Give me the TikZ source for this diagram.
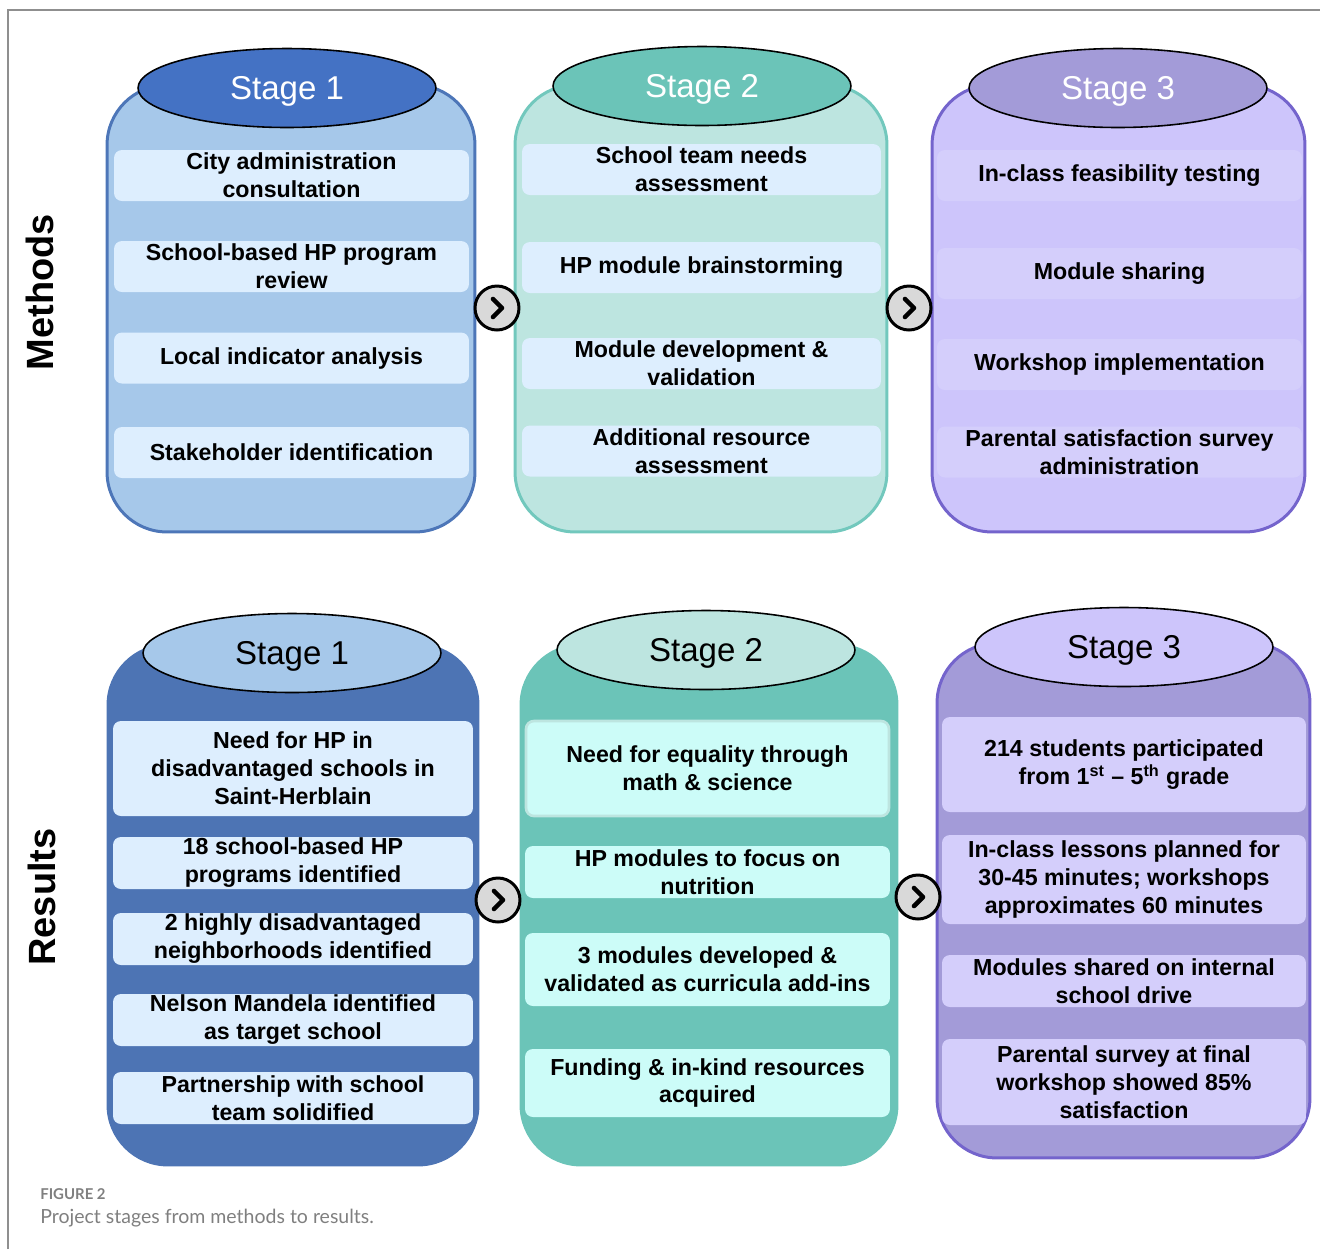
\documentclass[tikz,border=0pt]{standalone}
\usepackage{fontspec}
\setmainfont{Liberation Sans}
\newfontfamily\capfont{Lato}
\usetikzlibrary{shapes.geometric,positioning,calc}

\definecolor{colA}{HTML}{A6C8EA}
\definecolor{colAdark}{HTML}{4472C4}
\definecolor{colAline}{HTML}{4D76B8}
\definecolor{colAres}{HTML}{4D74B4}
\definecolor{colB}{HTML}{BDE5E0}
\definecolor{colBdark}{HTML}{6BC4B8}
\definecolor{colBline}{HTML}{72C8BD}
\definecolor{colC}{HTML}{CDC5FB}
\definecolor{colCdark}{HTML}{A39BD8}
\definecolor{colCline}{HTML}{7464CC}
\definecolor{boxblue}{HTML}{DDEEFE}
\definecolor{boxteal}{HTML}{CCFCF8}
\definecolor{boxlilac}{HTML}{D4CEFB}
\definecolor{framegray}{HTML}{8F8F8F}
\definecolor{capgray}{HTML}{7F7F7F}

\begin{document}
\begin{tikzpicture}[
    x=0.02cm, y=-0.02cm,
    stagecol/.style={rectangle, rounded corners=1.2cm, line width=1.7pt, minimum height=8.94cm, inner sep=0pt},
    stagehead/.style={ellipse, draw=black, line width=0.9pt, minimum width=5.96cm, minimum height=1.58cm, inner sep=0pt, text height=16.9pt, text depth=3.9pt, font=\fontsize{18.8}{22}\selectfont},
    stepbox/.style={rectangle, rounded corners=4.5pt, align=center, inner sep=0pt, minimum height=1.02cm, font=\bfseries\fontsize{13.2}{15.9}\selectfont},
    nextarrow/.style={circle, draw=black, fill=black!15, line width=1.7pt, minimum size=0.88cm, inner sep=0pt},
    chev/.style={line width=2.6pt, line cap=round, line join=round},
    rowlabel/.style={rotate=90, font=\bfseries\fontsize{21.6}{24}\selectfont}
]
    \useasboundingbox (0,0) rectangle (1320,1249);
    \draw [framegray, line width=1.1pt] (8,1249) -- (8,10) -- (1320,10);

    % methods
    \node [rowlabel] (methods) at (40,292) {Methods};

    \node [stagecol, fill=colA, draw=colAline, minimum width=7.36cm] (mcol1) at (291,308.5) {};
    \node [stagecol, fill=colB, draw=colBline, minimum width=7.44cm] (mcol2) at (701,308.5) {};
    \node [stagecol, fill=colC, draw=colCline, minimum width=7.46cm] (mcol3) at (1118.5,308.5) {};

    \node [stagehead, fill=colAdark, text=white] (mhead1) at (287,88) {Stage 1};
    \node [stagehead, fill=colBdark, text=white] (mhead2) at (702,86) {Stage 2};
    \node [stagehead, fill=colCdark, text=white] (mhead3) at (1118,88) {Stage 3};

    \node [stepbox, fill=boxblue, minimum width=7.1cm] (m11) at (291.5,175.5) {City administration\\consultation};
    \node [stepbox, fill=boxblue, minimum width=7.1cm] (m12) at (291.5,266.5) {School-based HP program\\review};
    \node [stepbox, fill=boxblue, minimum width=7.1cm] (m13) at (291.5,358) {Local indicator analysis};
    \node [stepbox, fill=boxblue, minimum width=7.1cm] (m14) at (291.5,452.5) {Stakeholder identification};

    \node [stepbox, fill=boxblue, minimum width=7.18cm] (m21) at (701.5,169.5) {School team needs\\assessment};
    \node [stepbox, fill=boxblue, minimum width=7.18cm] (m22) at (701.5,267.5) {HP module brainstorming};
    \node [stepbox, fill=boxblue, minimum width=7.18cm] (m23) at (701.5,363.5) {Module development \&\\validation};
    \node [stepbox, fill=boxblue, minimum width=7.18cm] (m24) at (701.5,451) {Additional resource\\assessment};

    \node [stepbox, fill=boxlilac, minimum width=7.3cm] (m31) at (1119.5,175.5) {In-class feasibility testing};
    \node [stepbox, fill=boxlilac, minimum width=7.3cm] (m32) at (1119.5,273.5) {Module sharing};
    \node [stepbox, fill=boxlilac, minimum width=7.3cm] (m33) at (1119.5,364.5) {Workshop implementation};
    \node [stepbox, fill=boxlilac, minimum width=7.3cm] (m34) at (1119.5,452) {Parental satisfaction survey\\administration};

    \node [nextarrow] (ma1) at (497,308) {};
    \node [nextarrow] (ma2) at (909,308) {};

    % results
    \node [rowlabel] (results) at (42,897) {Results};

    \node [stagecol, fill=colAres, draw=colAres, minimum width=7.4cm, minimum height=10.4cm] (rcol1) at (293,905) {};
    \node [stagecol, fill=colBdark, draw=colBdark, minimum width=7.52cm, minimum height=10.4cm] (rcol2) at (709,905) {};
    \node [stagecol, fill=colCdark, draw=colCline, minimum width=7.46cm, minimum height=10.3cm] (rcol3) at (1123.5,900.5) {};

    \node [stagehead, fill=colA] (rhead1) at (292,653) {Stage 1};
    \node [stagehead, fill=colB] (rhead2) at (706,650) {Stage 2};
    \node [stagehead, fill=colC] (rhead3) at (1124,647) {Stage 3};

    \node [stepbox, fill=boxblue, minimum width=7.2cm, minimum height=1.9cm] (r11) at (293,768.5) {Need for HP in\\disadvantaged schools in\\Saint-Herblain};
    \node [stepbox, fill=boxblue, minimum width=7.2cm, minimum height=1.04cm] (r12) at (293,863) {18 school-based HP\\programs identified};
    \node [stepbox, fill=boxblue, minimum width=7.2cm, minimum height=1.04cm] (r13) at (293,939) {2 highly disadvantaged\\neighborhoods identified};
    \node [stepbox, fill=boxblue, minimum width=7.2cm, minimum height=1.04cm] (r14) at (293,1020) {Nelson Mandela identified\\as target school};
    \node [stepbox, fill=boxblue, minimum width=7.2cm, minimum height=1.04cm] (r15) at (293,1098) {Partnership with school\\team solidified};

    \node [stepbox, fill=boxteal, draw=colB, line width=1.5pt, minimum width=7.26cm, minimum height=1.9cm] (r21) at (707.5,768.5) {Need for equality through\\math \& science};
    \node [stepbox, fill=boxteal, minimum width=7.3cm, minimum height=1.04cm] (r22) at (707.5,872) {HP modules to focus on\\nutrition};
    \node [stepbox, fill=boxteal, minimum width=7.3cm, minimum height=1.46cm] (r23) at (707.5,969.5) {3 modules developed \&\\validated as curricula add-ins};
    \node [stepbox, fill=boxteal, minimum width=7.3cm, minimum height=1.36cm] (r24) at (707.5,1083) {Funding \& in-kind resources\\acquired};

    \node [stepbox, fill=boxlilac, minimum width=7.28cm, minimum height=1.9cm] (r31) at (1124,764.5) {214 students participated\\from 1\textsuperscript{st} -- 5\textsuperscript{th} grade};
    \node [stepbox, fill=boxlilac, minimum width=7.28cm, minimum height=1.78cm] (r32) at (1124,879.5) {In-class lessons planned for\\30-45 minutes; workshops\\approximates 60 minutes};
    \node [stepbox, fill=boxlilac, minimum width=7.28cm, minimum height=1.04cm] (r33) at (1124,981) {Modules shared on internal\\school drive};
    \node [stepbox, fill=boxlilac, minimum width=7.28cm, minimum height=1.72cm] (r34) at (1124,1082) {Parental survey at final\\workshop showed 85\%\\satisfaction};

    \node [nextarrow] (ra1) at (498,900) {};
    \node [nextarrow] (ra2) at (918,897) {};

    \foreach \a in {ma1,ma2,ra1,ra2}
        \draw [chev] ($(\a.center)+(-4,-9)$) -- ($(\a.center)+(5,0)$) -- ($(\a.center)+(-4,9)$);

    % caption
    \node [anchor=west, inner sep=0pt, text=capgray, font=\capfont\bfseries\fontsize{8.5}{10}\selectfont] (figlabel) at (40,1194) {FIGURE 2};
    \node [anchor=west, inner sep=0pt, text=capgray, font=\capfont\fontsize{11.1}{13}\selectfont] (figcaption) at (40,1218) {Project stages from methods to results.};
\end{tikzpicture}
\end{document}
